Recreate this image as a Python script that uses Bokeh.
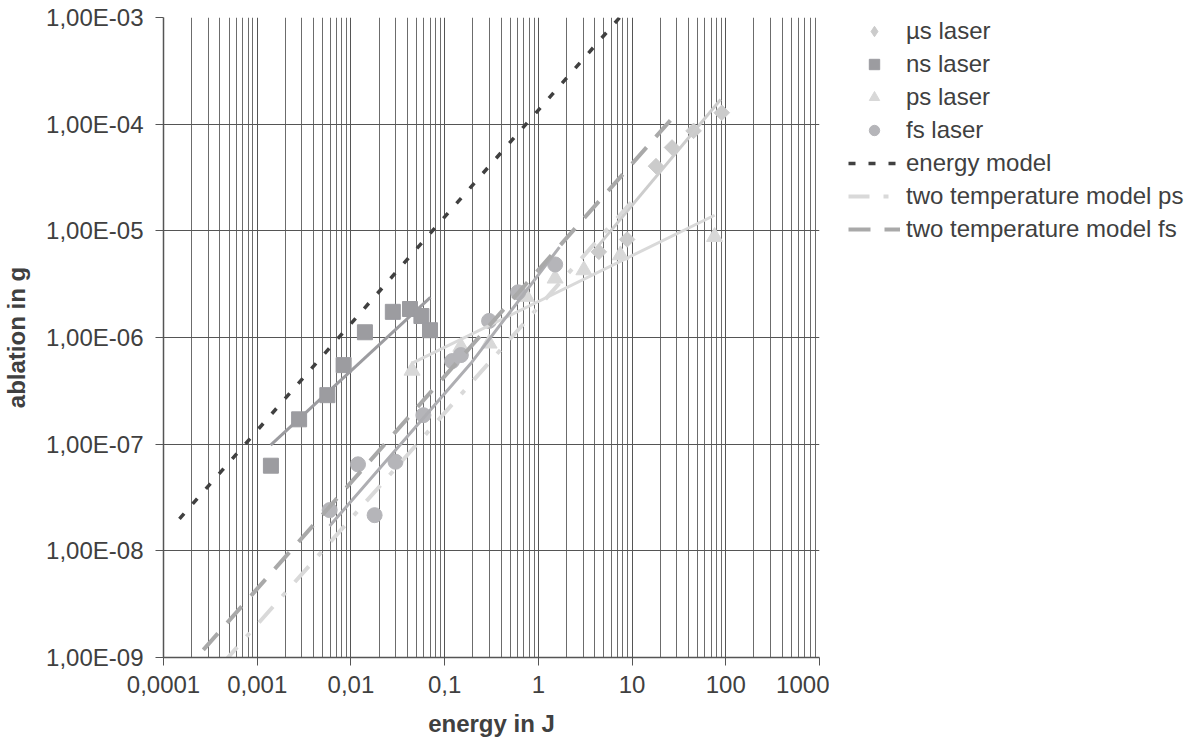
from bokeh.plotting import figure
from bokeh.layouts import row
from bokeh.models import FixedTicker, CustomJSTickFormatter, Legend, LegendItem, Range1d
from bokeh.embed import file_html
from bokeh.resources import INLINE

# ---------------- data ----------------
us_energy = [4.42, 8.85, 18.0, 26.7, 45.3, 90.6]
us_ablation = [6.35e-6, 8.3e-6, 4.04e-5, 6.05e-5, 8.65e-5, 1.28e-4]

ns_energy = [1.40e-3, 2.80e-3, 5.6e-3, 8.36e-3, 1.41e-2, 2.80e-2, 4.27e-2, 5.65e-2, 6.98e-2]
ns_ablation = [6.28e-8, 1.71e-7, 2.88e-7, 5.51e-7, 1.12e-6, 1.74e-6, 1.85e-6, 1.59e-6, 1.17e-6]

ps_energy = [4.49e-2, 0.149, 0.298, 0.745, 1.51, 3.06, 7.51, 75.9]
ps_ablation = [4.9e-7, 8.2e-7, 8.8e-7, 2.41e-6, 3.58e-6, 4.28e-6, 5.92e-6, 8.79e-6]

fs_energy = [5.93e-3, 1.19e-2, 1.79e-2, 2.99e-2, 5.93e-2, 0.120, 0.149, 0.298, 0.608, 1.51]
fs_ablation = [2.41e-8, 6.47e-8, 2.16e-8, 6.84e-8, 1.87e-7, 6.01e-7, 6.84e-7, 1.43e-6, 2.65e-6, 4.84e-6]

# trend lines
us_fit_energy = [4.15, 88.1]
us_fit_ablation = [6.89e-6, 1.70e-4]
ns_fit_energy = [1.39e-3, 7.05e-2]
ns_fit_ablation = [9.8e-8, 2.38e-6]
ps_fit_energy = [4.51e-2, 76.0]
ps_fit_ablation = [5.75e-7, 1.40e-5]
fs_fit_energy = [5.93e-3, 0.195, 1.68]
fs_fit_ablation = [1.71e-8, 5.87e-7, 7.03e-6]

# models
energy_model_energy = [1.48e-4, 8.63]
energy_model_ablation = [1.99e-8, 1.17e-3]
ttm_ps_energy = [4.34e-4, 11.9]
ttm_ps_ablation = [8.9e-10, 2.25e-5]
ttm_fs_energy = [2.66e-4, 30.0]
ttm_fs_ablation = [1.18e-9, 1.27e-4]

x_ticks = [1e-4, 1e-3, 1e-2, 1e-1, 1.0, 10.0, 100.0, 1000.0]
y_ticks = [1e-9, 1e-8, 1e-7, 1e-6, 1e-5, 1e-4, 1e-3]
x_minor = [m * t for t in x_ticks[:-1] for m in range(2, 10)]

legend_labels = ["µs laser", "ns laser", "ps laser", "fs laser", "energy model",
                 "two temperature model ps", "two temperature model fs"]

FONT = "Liberation Sans"
TXT = "#404040"
H = 745

# style per series
US = dict(marker="square", angle=0.785398, size=11, color="#cbcbcb")
US_LEG = dict(marker="diamond", size=16, color="#cbcbcb")
NS = dict(marker="square", size=15, color="#9c9ca0")
PS = dict(marker="triangle", size=16, color="#d8d8d8")
FS = dict(marker="circle", size=15, color="#b5b5b9")
EM = dict(line_color="#404040", line_width=3.5, line_dash="7 13")
TP = dict(line_color="#d9d9d9", line_width=4, line_dash="21 14 5 14")
TF = dict(line_color="#a9a9a9", line_width=4, line_dash="22 14")

p = figure(width=829, height=H, x_axis_type="log", y_axis_type="log",
           x_range=Range1d(1e-4, 1e3), y_range=Range1d(1e-9, 1e-3),
           output_backend="svg", toolbar_location=None,
           min_border_left=160, min_border_right=10, min_border_top=17, min_border_bottom=88)
p.outline_line_color = None
p.background_fill_color = "white"

xt = FixedTicker(ticks=x_ticks, minor_ticks=x_minor)
yt = FixedTicker(ticks=y_ticks, minor_ticks=[])
p.xaxis.ticker = xt
p.yaxis.ticker = yt
p.xgrid.ticker = xt
p.ygrid.ticker = yt

p.xgrid.grid_line_color = "#555555"
p.xgrid.minor_grid_line_color = "#6c6c6c"
p.ygrid.grid_line_color = "#555555"

p.xaxis.formatter = CustomJSTickFormatter(code="return tick.toString().replace('.', ',');")
p.yaxis.formatter = CustomJSTickFormatter(code="""
const e = Math.round(Math.log10(tick));
const s = String(Math.abs(e)).padStart(2, '0');
return '1,00E' + (e < 0 ? '-' : '+') + s;
""")

for ax in (p.xaxis, p.yaxis):
    ax.axis_line_color = "#555555"
    ax.axis_line_width = 1.5
    ax.major_tick_line_color = "#555555"
    ax.major_tick_out = 8
    ax.major_tick_in = 0
    ax.minor_tick_out = 0
    ax.minor_tick_in = 0
    ax.major_label_text_font = FONT
    ax.major_label_text_font_size = "24px"
    ax.major_label_text_color = TXT
    ax.axis_label_text_font = FONT
    ax.axis_label_text_font_size = "24px"
    ax.axis_label_text_font_style = "bold"
    ax.axis_label_text_color = TXT

p.xaxis.axis_label = "energy in J"
p.yaxis.axis_label = "ablation in g"
p.xaxis.major_label_standoff = 10
p.yaxis.major_label_standoff = 12
p.xaxis.axis_label_standoff = 14
p.yaxis.axis_label_standoff = 13

# markers
p.scatter(us_energy, us_ablation, **US)
p.scatter(ns_energy, ns_ablation, **NS)
p.scatter(ps_energy, ps_ablation, **PS)
p.scatter(fs_energy, fs_ablation, **FS)

# trend lines
p.line(us_fit_energy, us_fit_ablation, line_color="#cdcdcd", line_width=3)
p.line(ns_fit_energy, ns_fit_ablation, line_color="#9c9ca0", line_width=3)
p.line(ps_fit_energy, ps_fit_ablation, line_color="#d9d9d9", line_width=3)
p.line(fs_fit_energy, fs_fit_ablation, line_color="#aeaeb2", line_width=3)

# models
p.line(energy_model_energy, energy_model_ablation, **EM)
p.line(ttm_ps_energy, ttm_ps_ablation, **TP)
p.line(ttm_fs_energy, ttm_fs_ablation, **TF)

# ---------------- legend panel (its own ranges keep the series out of view) ----------------
q = figure(width=366, height=H, output_backend="svg", toolbar_location=None,
           x_range=Range1d(-2, -1), y_range=Range1d(-2, -1),
           x_axis_location=None, y_axis_location=None,
           min_border_left=12, min_border_right=0, min_border_top=17, min_border_bottom=88)
q.outline_line_color = None
q.xgrid.visible = False
q.ygrid.visible = False
lr = [q.scatter(us_energy, us_ablation, **US_LEG),
      q.scatter(ns_energy, ns_ablation, **NS),
      q.scatter(ps_energy, ps_ablation, **PS),
      q.scatter(fs_energy, fs_ablation, **FS),
      q.line(energy_model_energy, energy_model_ablation, **EM),
      q.line(ttm_ps_energy, ttm_ps_ablation, **TP),
      q.line(ttm_fs_energy, ttm_fs_ablation, **TF)]

legend = Legend(items=[LegendItem(label=t, renderers=[r]) for t, r in zip(legend_labels, lr)],
                location=(7, 414))
legend.label_text_font = FONT
legend.label_text_font_size = "24px"
legend.label_text_color = TXT
legend.glyph_width = 52
legend.glyph_height = 26
legend.label_height = 26
legend.label_standoff = 6
legend.spacing = 5
legend.padding = 0
legend.margin = 0
legend.border_line_alpha = 0
legend.background_fill_alpha = 0
q.add_layout(legend, "center")

open("out.html", "w").write(file_html(row(p, q), INLINE))
